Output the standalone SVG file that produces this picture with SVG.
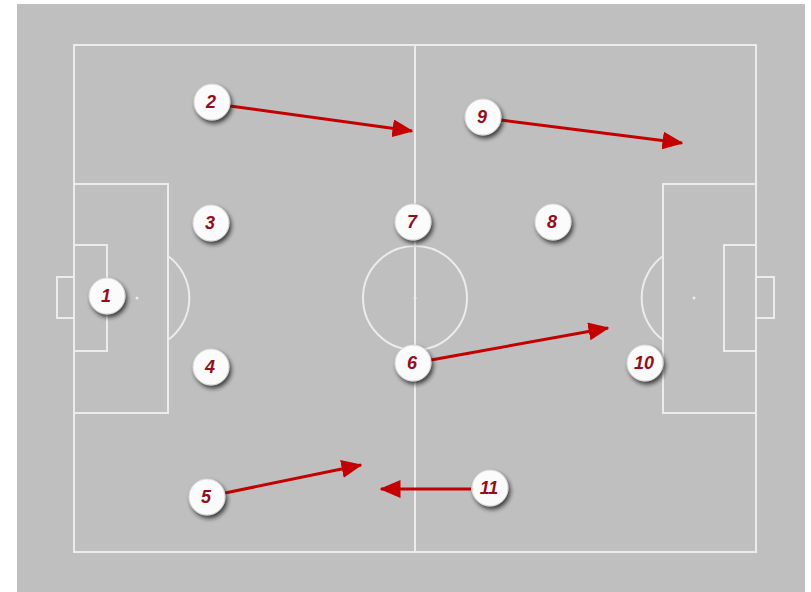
<svg xmlns="http://www.w3.org/2000/svg" width="811" height="592" viewBox="0 0 811 592">
<defs>
<style>
.ln{fill:none;stroke:#ececec;stroke-width:2}
.pl circle{fill:#fbfbfb;stroke:#d8d8d8;stroke-width:1;filter:url(#sh)}
.pl text{font-family:"Liberation Sans",Arial,sans-serif;font-weight:bold;font-style:italic;font-size:18px;fill:#980c1a;text-anchor:middle;dominant-baseline:central}
.ar{stroke:#c40000;stroke-width:3;fill:none;marker-end:url(#ah)}
</style>
<filter id="sh" x="-50%" y="-50%" width="200%" height="200%">
<feDropShadow dx="2" dy="3" stdDeviation="2" flood-color="#202020" flood-opacity="0.8"/>
</filter>
<marker id="ah" markerWidth="7" markerHeight="6" refX="6.5" refY="3" orient="auto" markerUnits="strokeWidth">
<path d="M0,0 L7,3 L0,6 Z" fill="#c40000"/>
</marker>
</defs>
<rect x="0" y="0" width="811" height="592" fill="#ffffff"/>
<rect x="17" y="4" width="788" height="588" fill="#bfbfbf"/>
<g id="pitch">
<rect class="ln" x="74" y="45" width="682" height="507"/>
<line class="ln" x1="415" y1="45" x2="415" y2="552"/>
<circle class="ln" cx="415" cy="298" r="52"/>
<circle cx="415" cy="298" r="1.5" fill="#ececec"/>
<rect class="ln" x="74" y="184" width="94" height="229"/>
<rect class="ln" x="74" y="245" width="33" height="106"/>
<rect class="ln" x="57" y="277" width="17" height="41"/>
<path class="ln" d="M168,256 A52,52 0 0 1 168,340"/>
<circle cx="137" cy="298" r="1.5" fill="#ececec"/>
<rect class="ln" x="663" y="184" width="93" height="229"/>
<rect class="ln" x="724" y="245" width="32" height="106"/>
<rect class="ln" x="756" y="277" width="18" height="41"/>
<path class="ln" d="M663,256 A52,52 0 0 0 663,340"/>
<circle cx="694" cy="298" r="1.5" fill="#ececec"/>
</g>
<g id="connectors">
<line class="ar" x1="230" y1="106" x2="412" y2="131"/>
<line class="ar" x1="501" y1="120" x2="682" y2="143"/>
<line class="ar" x1="431" y1="360" x2="608" y2="328"/>
<line class="ar" x1="225" y1="493" x2="361" y2="465"/>
<line class="ar" x1="471" y1="489" x2="381" y2="489"/>
</g>
<g id="p1" class="pl"><circle cx="107" cy="296" r="18"/><text x="106" y="296">1</text></g>
<g id="p2" class="pl"><circle cx="212" cy="102" r="18"/><text x="211" y="102">2</text></g>
<g id="p3" class="pl"><circle cx="211" cy="223" r="18"/><text x="210" y="223">3</text></g>
<g id="p4" class="pl"><circle cx="211" cy="367" r="18"/><text x="210" y="367">4</text></g>
<g id="p5" class="pl"><circle cx="207" cy="497" r="18"/><text x="206" y="497">5</text></g>
<g id="p6" class="pl"><circle cx="413" cy="363" r="18"/><text x="412" y="363">6</text></g>
<g id="p7" class="pl"><circle cx="413" cy="222" r="18"/><text x="412" y="222">7</text></g>
<g id="p8" class="pl"><circle cx="553" cy="222" r="18"/><text x="552" y="222">8</text></g>
<g id="p9" class="pl"><circle cx="483" cy="117" r="18"/><text x="482" y="117">9</text></g>
<g id="p10" class="pl"><circle cx="645" cy="363" r="18"/><text x="644" y="363">10</text></g>
<g id="p11" class="pl"><circle cx="490" cy="488" r="18"/><text x="489" y="488">11</text></g>
</svg>
